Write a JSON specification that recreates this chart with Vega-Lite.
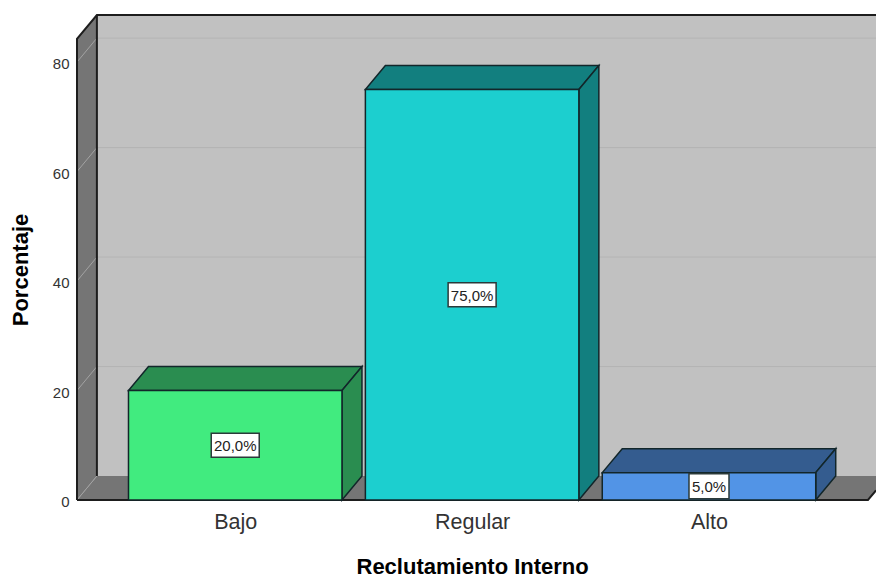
{
  "$schema": "https://vega.github.io/schema/vega-lite/v6.json",
  "width": 799,
  "height": 485,
  "autosize": "none",
  "padding": {"left": 77, "top": 15, "right": 0, "bottom": 76},
  "background": "white",
  "config": {"view": {"stroke": null}, "font": "Liberation Sans"},
  "datasets": {
    "bars": [
      {"category": "Bajo", "slot": 0, "left": -0.4506, "right": 0.4506, "value": 20, "middle": 10, "label": "20,0%"},
      {"category": "Regular", "slot": 1, "left": 0.5494, "right": 1.4506, "value": 75, "middle": 37.5, "label": "75,0%"},
      {"category": "Alto", "slot": 2, "left": 1.5494, "right": 2.4506, "value": 5, "middle": 2.5, "label": "5,0%"}
    ],
    "barDepth": [
      {"category": "Bajo", "face": "top", "x": -0.4506, "low": 20, "high": 20},
      {"category": "Bajo", "face": "top", "x": -0.3662, "low": 20, "high": 24.38},
      {"category": "Bajo", "face": "top", "x": 0.4506, "low": 20, "high": 24.38},
      {"category": "Bajo", "face": "top", "x": 0.535, "low": 24.38, "high": 24.38},
      {"category": "Bajo", "face": "side", "x": 0.4506, "low": 0, "high": 20},
      {"category": "Bajo", "face": "side", "x": 0.535, "low": 4.38, "high": 24.38},
      {"category": "Regular", "face": "top", "x": 0.5494, "low": 75, "high": 75},
      {"category": "Regular", "face": "top", "x": 0.6338, "low": 75, "high": 79.38},
      {"category": "Regular", "face": "top", "x": 1.4506, "low": 75, "high": 79.38},
      {"category": "Regular", "face": "top", "x": 1.535, "low": 79.38, "high": 79.38},
      {"category": "Regular", "face": "side", "x": 1.4506, "low": 0, "high": 75},
      {"category": "Regular", "face": "side", "x": 1.535, "low": 4.38, "high": 79.38},
      {"category": "Alto", "face": "top", "x": 1.5494, "low": 5, "high": 5},
      {"category": "Alto", "face": "top", "x": 1.6338, "low": 5, "high": 9.38},
      {"category": "Alto", "face": "top", "x": 2.4506, "low": 5, "high": 9.38},
      {"category": "Alto", "face": "top", "x": 2.535, "low": 9.38, "high": 9.38},
      {"category": "Alto", "face": "side", "x": 2.4506, "low": 0, "high": 5},
      {"category": "Alto", "face": "side", "x": 2.535, "low": 4.38, "high": 9.38}
    ],
    "surfaces": [
      {"surface": "wall", "x": -0.584, "low": 4.38, "high": 88.6},
      {"surface": "wall", "x": 2.705, "low": 4.38, "high": 88.6},
      {"surface": "side", "x": -0.668, "low": 0, "high": 84.22},
      {"surface": "side", "x": -0.584, "low": 4.38, "high": 88.6},
      {"surface": "floor", "x": -0.668, "low": 0, "high": 0},
      {"surface": "floor", "x": -0.584, "low": 0, "high": 4.38},
      {"surface": "floor", "x": 2.671, "low": 0, "high": 4.38},
      {"surface": "floor", "x": 2.755, "low": 4.38, "high": 4.38}
    ],
    "grid": [
      {"line": "b20", "part": "back", "x": -0.584, "y": 24.38},
      {"line": "b20", "part": "back", "x": 2.705, "y": 24.38},
      {"line": "b40", "part": "back", "x": -0.584, "y": 44.38},
      {"line": "b40", "part": "back", "x": 2.705, "y": 44.38},
      {"line": "b60", "part": "back", "x": -0.584, "y": 64.38},
      {"line": "b60", "part": "back", "x": 2.705, "y": 64.38},
      {"line": "b80", "part": "back", "x": -0.584, "y": 84.38},
      {"line": "b80", "part": "back", "x": 2.705, "y": 84.38},
      {"line": "s0", "part": "side", "x": -0.668, "y": 0},
      {"line": "s0", "part": "side", "x": -0.584, "y": 4.38},
      {"line": "s20", "part": "side", "x": -0.668, "y": 20},
      {"line": "s20", "part": "side", "x": -0.584, "y": 24.38},
      {"line": "s40", "part": "side", "x": -0.668, "y": 40},
      {"line": "s40", "part": "side", "x": -0.584, "y": 44.38},
      {"line": "s60", "part": "side", "x": -0.668, "y": 60},
      {"line": "s60", "part": "side", "x": -0.584, "y": 64.38},
      {"line": "s80", "part": "side", "x": -0.668, "y": 80},
      {"line": "s80", "part": "side", "x": -0.584, "y": 84.38}
    ],
    "frame": [
      {"edge": "outer", "step": 1, "x": -0.668, "y": 0},
      {"edge": "outer", "step": 2, "x": -0.668, "y": 84.22},
      {"edge": "outer", "step": 3, "x": -0.584, "y": 88.6},
      {"edge": "outer", "step": 4, "x": 2.705, "y": 88.6},
      {"edge": "corner", "step": 1, "x": -0.584, "y": 88.6},
      {"edge": "corner", "step": 2, "x": -0.584, "y": 4.38},
      {"edge": "base", "step": 1, "x": -0.668, "y": 0},
      {"edge": "base", "step": 2, "x": 2.671, "y": 0},
      {"edge": "base", "step": 3, "x": 2.705, "y": 1.77}
    ]
  },
  "resolve": {"scale": {"color": "independent"}},
  "layer": [
    {
      "data": {"name": "surfaces"},
      "mark": {"type": "area", "clip": true},
      "encoding": {
        "x": {
          "field": "x",
          "type": "quantitative",
          "scale": {"domain": [-0.668, 2.705], "nice": false, "zero": false},
          "axis": {
            "values": [0, 1, 2],
            "labelExpr": "datum.value === 0 ? 'Bajo' : datum.value === 1 ? 'Regular' : 'Alto'",
            "title": "Reclutamiento Interno",
            "titleFontSize": 22,
            "titleFontWeight": "bold",
            "titleColor": "#000000",
            "titlePadding": 24,
            "titleAnchor": "start",
            "titleX": 279,
            "labelFontSize": 21.5,
            "labelColor": "#333333",
            "labelPadding": 11,
            "labelFlush": false,
            "labelOverlap": false,
            "grid": false,
            "ticks": false,
            "domain": false
          }
        },
        "y": {
          "field": "low",
          "type": "quantitative",
          "scale": {"domain": [0, 88.6], "nice": false},
          "axis": {
            "values": [0, 20, 40, 60, 80],
            "title": "Porcentaje",
            "titleFontSize": 22,
            "titleFontWeight": "bold",
            "titleColor": "#000000",
            "titlePadding": 20,
            "titleAnchor": "middle",
            "titleY": 254.5,
            "labelFontSize": 15,
            "labelColor": "#333333",
            "labelPadding": 8,
            "labelOffset": 1.5,
            "grid": false,
            "ticks": false,
            "domain": false
          }
        },
        "y2": {"field": "high"},
        "detail": {"field": "surface"},
        "color": {
          "field": "surface",
          "type": "nominal",
          "scale": {"domain": ["wall", "side", "floor"], "range": ["#c1c1c1", "#757575", "#757575"]},
          "legend": null
        }
      }
    },
    {
      "data": {"name": "grid"},
      "mark": {"type": "line", "strokeWidth": 1, "clip": true},
      "encoding": {
        "x": {"field": "x", "type": "quantitative"},
        "y": {"field": "y", "type": "quantitative"},
        "detail": {"field": "line"},
        "color": {
          "field": "part",
          "type": "nominal",
          "scale": {"domain": ["back", "side"], "range": ["#b4b4b4", "#a3a3a3"]},
          "legend": null
        }
      }
    },
    {
      "data": {"name": "frame"},
      "mark": {"type": "line", "stroke": "#1d1d1d", "strokeWidth": 2},
      "encoding": {
        "x": {"field": "x", "type": "quantitative"},
        "y": {"field": "y", "type": "quantitative"},
        "detail": {"field": "edge"},
        "order": {"field": "step"}
      }
    },
    {
      "data": {"name": "barDepth"},
      "mark": {"type": "area", "stroke": "#12262a", "strokeWidth": 1.5},
      "encoding": {
        "x": {"field": "x", "type": "quantitative"},
        "y": {"field": "low", "type": "quantitative"},
        "y2": {"field": "high"},
        "detail": {"field": "face"},
        "color": {
          "field": "category",
          "type": "nominal",
          "scale": {"domain": ["Bajo", "Regular", "Alto"], "range": ["#2a8d50", "#127f7f", "#345c8f"]},
          "legend": null
        }
      }
    },
    {
      "data": {"name": "bars"},
      "mark": {"type": "rect", "stroke": "#12262a", "strokeWidth": 1.5},
      "encoding": {
        "x": {"field": "left", "type": "quantitative"},
        "x2": {"field": "right"},
        "y": {"field": "value", "type": "quantitative"},
        "y2": {"datum": 0},
        "color": {
          "field": "category",
          "type": "nominal",
          "scale": {"domain": ["Bajo", "Regular", "Alto"], "range": ["#41eb7f", "#1ccfcf", "#5294e6"]},
          "legend": null
        }
      }
    },
    {
      "data": {"name": "bars"},
      "transform": [{"filter": "datum.category !== 'Alto'"}],
      "mark": {"type": "rect", "width": 48, "height": 24, "fill": "white", "stroke": "#2b3a3a", "strokeWidth": 1.5},
      "encoding": {
        "x": {"field": "slot", "type": "quantitative"},
        "y": {"field": "middle", "type": "quantitative"}
      }
    },
    {
      "data": {"name": "bars"},
      "transform": [{"filter": "datum.category === 'Alto'"}],
      "mark": {"type": "rect", "width": 40, "height": 25, "fill": "white", "stroke": "#2b3a3a", "strokeWidth": 1.5},
      "encoding": {
        "x": {"field": "slot", "type": "quantitative"},
        "y": {"field": "middle", "type": "quantitative"}
      }
    },
    {
      "data": {"name": "bars"},
      "mark": {"type": "text", "fontSize": 15, "color": "#222222", "align": "center", "baseline": "middle", "dy": 1},
      "encoding": {
        "x": {"field": "slot", "type": "quantitative"},
        "y": {"field": "middle", "type": "quantitative"},
        "text": {"field": "label"}
      }
    }
  ]
}
